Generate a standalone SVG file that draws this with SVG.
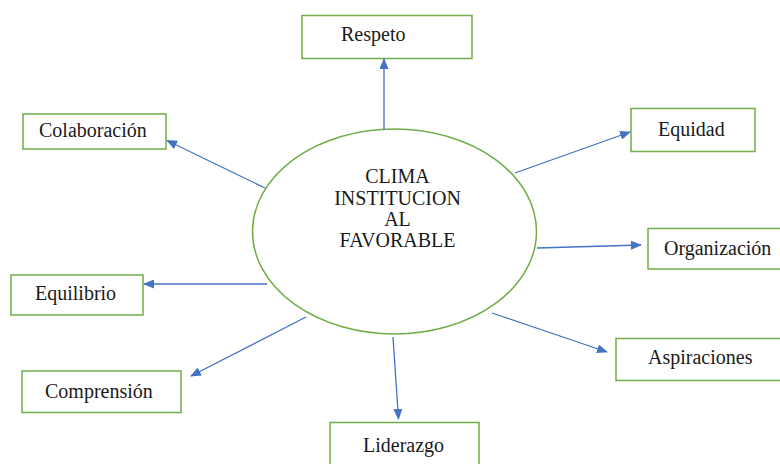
<svg xmlns="http://www.w3.org/2000/svg" width="780" height="464" viewBox="0 0 780 464">
<style>
.box{fill:#fff;stroke:#70AD47;stroke-width:1.5}
.lbl{font-family:"Liberation Serif","Times New Roman",serif;font-size:20px;fill:#1a1a1a}
.ctr{font-family:"Liberation Serif","Times New Roman",serif;font-size:20px;fill:#1a1a1a;text-anchor:middle}
.con{stroke:#4472C4;stroke-width:1.3;fill:none;marker-end:url(#ah)}
</style>
<defs>
<marker id="ah" markerUnits="userSpaceOnUse" markerWidth="11" markerHeight="9" refX="10" refY="4.5" orient="auto">
<path d="M0,0 L11,4.5 L0,9 z" fill="#4472C4"/>
</marker>
</defs>
<rect width="780" height="464" fill="#fff"/>
<g id="center">
<ellipse cx="394.5" cy="231.5" rx="142" ry="102.5" fill="#fff" stroke="#70AD47" stroke-width="1.5"/>
<text class="ctr" x="397.5" y="183">CLIMA</text>
<text class="ctr" x="397.5" y="205">INSTITUCION</text>
<text class="ctr" x="397.5" y="226">AL</text>
<text class="ctr" x="397.5" y="247">FAVORABLE</text>
</g>
<g id="respeto"><rect class="box" x="302" y="15.5" width="170" height="43"/><text class="lbl" x="341" y="41">Respeto</text></g>
<g id="colaboracion"><rect class="box" x="23" y="114" width="143" height="35"/><text class="lbl" x="39" y="137">Colaboración</text></g>
<g id="equidad"><rect class="box" x="631" y="108.5" width="124" height="43"/><text class="lbl" x="658" y="136">Equidad</text></g>
<g id="organizacion"><rect class="box" x="648" y="228.5" width="140" height="40.5"/><text class="lbl" x="664" y="255">Organización</text></g>
<g id="equilibrio"><rect class="box" x="11" y="275" width="132" height="40"/><text class="lbl" x="35" y="300">Equilibrio</text></g>
<g id="comprension"><rect class="box" x="22" y="371" width="159" height="41.5"/><text class="lbl" x="45" y="398">Comprensión</text></g>
<g id="liderazgo"><rect class="box" x="330" y="422.5" width="149" height="50"/><text class="lbl" x="363" y="452">Liderazgo</text></g>
<g id="aspiraciones"><rect class="box" x="616" y="338.5" width="175" height="42"/><text class="lbl" x="648" y="364">Aspiraciones</text></g>
<g id="connectors">
<line class="con" x1="384" y1="130" x2="384" y2="59"/>
<line class="con" x1="265" y1="188" x2="167" y2="140.5"/>
<line class="con" x1="515" y1="173" x2="630" y2="132"/>
<line class="con" x1="537" y1="248" x2="641" y2="245"/>
<line class="con" x1="267" y1="284" x2="144" y2="284"/>
<line class="con" x1="306" y1="317" x2="191" y2="376"/>
<line class="con" x1="393" y1="337" x2="398.5" y2="419"/>
<line class="con" x1="492" y1="313" x2="607" y2="352"/>
</g>
</svg>
